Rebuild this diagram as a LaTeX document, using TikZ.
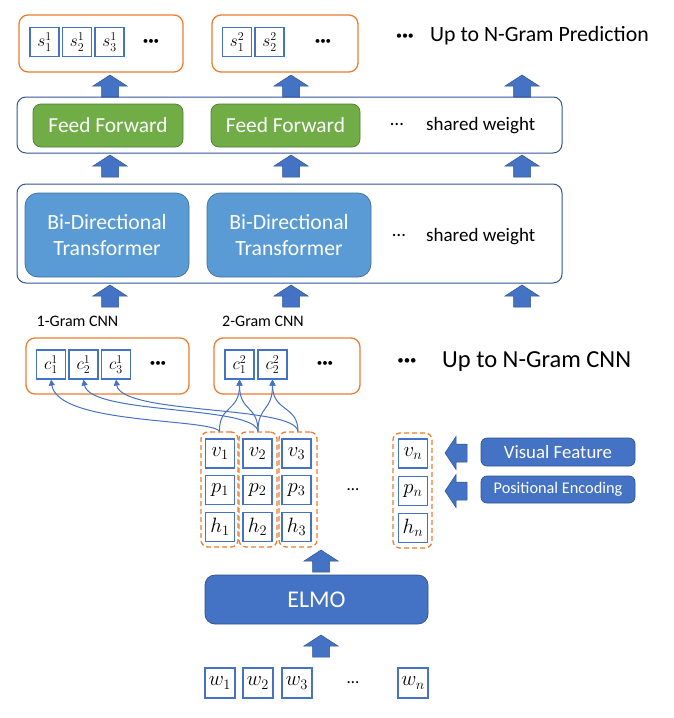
\documentclass[tikz,border=0pt]{standalone}
\usepackage[no-math]{fontspec}
\setmainfont{Carlito}
\usetikzlibrary{arrows.meta}
\definecolor{orng}{HTML}{ED7D31}
\definecolor{bl}{HTML}{4472C4}
\definecolor{bldk}{HTML}{2F528F}
\definecolor{outerc}{HTML}{2F5597}
\definecolor{grn}{HTML}{70AD47}
\definecolor{grndk}{HTML}{507E32}
\definecolor{lbl}{HTML}{5B9BD5}
\definecolor{lbldk}{HTML}{41719C}
\tikzset{
  obox/.style={draw=orng, line width=1.3pt, rounded corners=9pt, inner sep=0pt},
  sqbox/.style={draw=bl, line width=1.1pt, fill=white, minimum width=29pt, minimum height=29pt, inner sep=0pt, font=\fontsize{20}{20}\selectfont},
  ssbox/.style={sqbox, font=\fontsize{17}{17}\selectfont},
  outerbox/.style={draw=outerc, line width=1pt, rounded corners=9pt, inner sep=0pt},
  ffbox/.style={draw=grndk, fill=grn, line width=0.7pt, rounded corners=8pt, text=white, inner sep=0pt, font=\fontsize{21.4}{25}\selectfont},
  btbox/.style={draw=lbldk, fill=lbl, line width=0.7pt, rounded corners=13pt, text=white, inner sep=0pt, align=center, font=\fontsize{21.7}{26}\selectfont},
  dbox/.style={draw=bldk, fill=bl, line width=0.7pt, rounded corners=6pt, text=white, inner sep=0pt},
  grp/.style={draw=orng, line width=1.3pt, dash pattern=on 5pt off 3pt, rounded corners=7pt, inner sep=0pt},
  conn/.style={draw=bl, line width=1pt, -{Triangle[length=6pt,width=6pt]}},
  barrow/.style={fill=bl, draw=bldk, line width=0.5pt},
  lbl/.style={inner sep=0pt, text=black},
  bdots/.style={inner sep=0pt, text=black, font=\fontsize{#1}{#1}\selectfont},
  upar/.pic={\path[barrow] (-8.5,0) -- (-8.5,-11) -- (-17,-11) -- (0,-22) -- (17,-11) -- (8.5,-11) -- (8.5,0) -- cycle;},
  leftar/.pic={\path[barrow] (0,-9) -- (-11,-9) -- (-11,-16.5) -- (-22,0) -- (-11,16.5) -- (-11,9) -- (0,9) -- cycle;},
}
\begin{document}
\begin{tikzpicture}[x=1pt,y=-1pt]
\useasboundingbox (0,0) rectangle (674,718);

% ---- top prediction row
\node[obox, minimum width=164pt, minimum height=57pt] (top1) at (101,43.5) {};
\node[obox, minimum width=146pt, minimum height=57pt] (top2) at (285,43.5) {};
\node[ssbox] (s11) at (44.5,42) {$s_1^1$};
\node[ssbox] (s21) at (77,42) {$s_2^1$};
\node[ssbox] (s31) at (109.5,42) {$s_3^1$};
\node[ssbox] (s12) at (237,42) {$s_1^2$};
\node[ssbox] (s22) at (269.5,42) {$s_2^2$};
\node[bdots=11] (td1) at (151,42) {•••};
\node[bdots=11] (td2) at (323,42) {•••};
\node[bdots=12] (pd) at (405,37) {•••};
\node[lbl, anchor=west, font=\fontsize{21.8}{24}\selectfont] (pred) at (430,36) {Up to N-Gram Prediction};

\pic at (110,97) {upar};
\pic at (291,97) {upar};
\pic at (522,97) {upar};

% ---- feed forward row
\node[outerbox, minimum width=545pt, minimum height=56pt] (ffo) at (289.5,125) {};
\node[ffbox, minimum width=150pt, minimum height=43pt] (ff1) at (108,125.5) {Feed Forward};
\node[ffbox, minimum width=149pt, minimum height=43pt] (ff2) at (285.5,125.5) {Feed Forward};
\node[lbl, font=\fontsize{19}{19}\selectfont] (ffd) at (397,124) {…};
\node[lbl, anchor=west, font=\fontsize{19}{22}\selectfont] (sw1) at (426,126) {shared weight};

\pic at (110,177) {upar};
\pic at (291,177) {upar};
\pic at (522,177) {upar};

% ---- transformer row
\node[outerbox, minimum width=545pt, minimum height=99pt] (bto) at (289.5,233.5) {};
\node[btbox, minimum width=164pt, minimum height=84pt] (bt1) at (107,235) {Bi-Directional\\Transformer};
\node[btbox, minimum width=164pt, minimum height=84pt] (bt2) at (289,235) {Bi-Directional\\Transformer};
\node[lbl, font=\fontsize{19}{19}\selectfont] (btd) at (399,235) {…};
\node[lbl, anchor=west, font=\fontsize{19}{22}\selectfont] (sw2) at (426,237) {shared weight};

\pic at (110,307) {upar};
\pic at (291,307) {upar};
\pic at (522,307) {upar};

% ---- CNN row
\node[lbl, font=\fontsize{16}{18}\selectfont] (g1l) at (77.5,321) {1-Gram CNN};
\node[lbl, font=\fontsize{16}{18}\selectfont] (g2l) at (263,321) {2-Gram CNN};
\node[obox, minimum width=163pt, minimum height=56pt] (cnn1) at (107.5,366) {};
\node[obox, minimum width=146pt, minimum height=56pt] (cnn2) at (287,366) {};
\node[ssbox] (c11) at (51,364.5) {$c_1^1$};
\node[ssbox] (c21) at (83.5,364.5) {$c_2^1$};
\node[ssbox] (c31) at (116,364.5) {$c_3^1$};
\node[ssbox] (c12) at (239.5,364.5) {$c_1^2$};
\node[ssbox] (c22) at (272.5,364.5) {$c_2^2$};
\node[bdots=11] (cd1) at (158,364) {•••};
\node[bdots=11] (cd2) at (325,364) {•••};
\node[bdots=13] (cnd) at (407,362) {•••};
\node[lbl, anchor=west, font=\fontsize{24.5}{27}\selectfont] (cnnt) at (442,362) {Up to N-Gram CNN};

% ---- token groups
\node[grp, minimum width=37pt, minimum height=115pt] (g1) at (219.5,489.5) {};
\node[grp, minimum width=38pt, minimum height=115pt] (g2) at (258,489.5) {};
\node[grp, minimum width=38pt, minimum height=115pt] (g3) at (298,489.5) {};
\node[grp, minimum width=39pt, minimum height=115pt] (gn) at (412.5,490.5) {};

\node[sqbox] (v1) at (220,453.5) {$v_1$};
\node[sqbox] (p1) at (220,490) {$p_1$};
\node[sqbox] (h1) at (220,527) {$h_1$};
\node[sqbox] (v2) at (257.5,453.5) {$v_2$};
\node[sqbox] (p2) at (257.5,490) {$p_2$};
\node[sqbox] (h2) at (257.5,527) {$h_2$};
\node[sqbox] (v3) at (296.5,453.5) {$v_3$};
\node[sqbox] (p3) at (296.5,490) {$p_3$};
\node[sqbox] (h3) at (296.5,527) {$h_3$};
\node[sqbox] (vn) at (413,453.5) {$v_n$};
\node[sqbox] (pn) at (413,491) {$p_n$};
\node[sqbox] (hn) at (413,528) {$h_n$};
\node[lbl, font=\fontsize{17}{17}\selectfont] (gd) at (353,490) {…};

% ---- connectors to CNN
\draw[conn] (g1.north) .. controls (210,418) and (58,425) .. (c11.south);
\draw[conn] (g2.north) .. controls (255,405) and (90,415) .. (c21.south);
\draw[conn] (g3.north) .. controls (295,405) and (121,415) .. (c31.south);
\draw[conn] (g1.north) .. controls (219,405) and (239.5,412) .. (c12.south);
\draw[conn] (g2.north) .. controls (258,405) and (239.5,412) .. (c12.south);
\draw[conn] (g2.north) .. controls (258,405) and (272.5,412) .. (c22.south);
\draw[conn] (g3.north) .. controls (298,405) and (272.5,412) .. (c22.south);

% ---- side inputs
\pic at (467,453) {leftar};
\pic at (467,491) {leftar};
\node[dbox, minimum width=154pt, minimum height=28pt, font=\fontsize{18.8}{20}\selectfont] (vf) at (558,452) {Visual Feature};
\node[dbox, minimum width=154pt, minimum height=27pt, font=\fontsize{16.3}{18}\selectfont] (pe) at (558,489.5) {Positional Encoding};

% ---- ELMO
\pic at (321,572) {upar};
\node[dbox, rounded corners=10pt, minimum width=223pt, minimum height=49pt, font=\fontsize{24}{26}\selectfont] (elmo) at (316.5,599.5) {ELMO};
\pic at (321,657) {upar};

% ---- words
\node[sqbox, minimum width=30pt, minimum height=30pt] (w1) at (220,683) {$w_1$};
\node[sqbox, minimum width=30pt, minimum height=30pt] (w2) at (258,683) {$w_2$};
\node[sqbox, minimum width=30pt, minimum height=30pt] (w3) at (297,683) {$w_3$};
\node[sqbox, minimum width=30pt, minimum height=30pt] (wn) at (413,683) {$w_n$};
\node[lbl, font=\fontsize{17}{17}\selectfont] (wd) at (353,683) {…};
\end{tikzpicture}
\end{document}
